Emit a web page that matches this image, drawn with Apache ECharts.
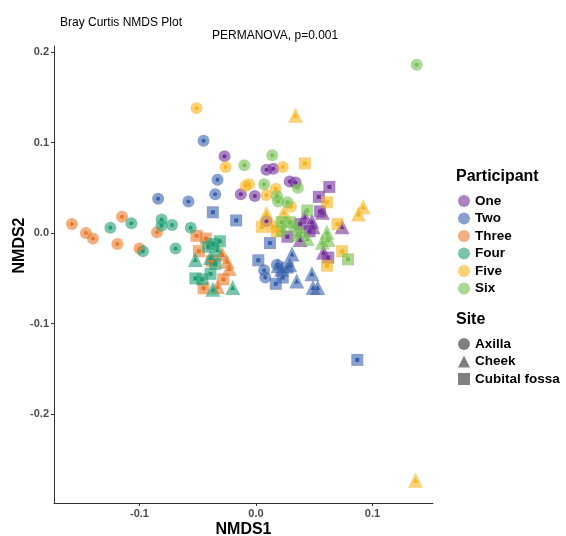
<!DOCTYPE html>
<html>
<head>
<meta charset="utf-8">
<script src="https://cdn.jsdelivr.net/npm/echarts@6/dist/echarts.min.js"></script>
<style>
  html, body { margin: 0; padding: 0; background: #fff; }
  #chart { width: 566px; height: 536px; }
</style>
</head>
<body>
<div id="chart"></div>
<script>
// NMDS 坐标, 每个点: [NMDS1, NMDS2, 部位]
let participants = ['One', 'Two', 'Three', 'Four', 'Five', 'Six'];
let sites = ['Axilla', 'Cheek', 'Cubital fossa'];
let xTicks = [-0.1, 0, 0.1];
let yTicks = [-0.2, -0.1, 0, 0.1, 0.2];

let one = [
    [-0.027, 0.085, 'Axilla'], [0.009, 0.070, 'Axilla'], [0.015, 0.071, 'Axilla'], [0.029, 0.057, 'Axilla'],
    [0.034, 0.056, 'Axilla'], [-0.013, 0.043, 'Axilla'], [-0.001, 0.041, 'Axilla'], [0.009, 0.013, 'Axilla'],
    [0.063, 0.051, 'Cubital fossa'], [0.054, 0.040, 'Cubital fossa'], [0.055, 0.024, 'Cubital fossa'],
    [0.027, -0.004, 'Cubital fossa'], [0.062, -0.027, 'Cubital fossa'], [0.038, 0.010, 'Cubital fossa'],
    [0.046, 0.002, 'Cubital fossa'],
    [0.057, 0.023, 'Cheek'], [0.048, 0.013, 'Cheek'], [0.049, 0.007, 'Cheek'], [0.074, 0.007, 'Cheek'],
    [0.058, -0.021, 'Cheek'], [0.038, -0.007, 'Cheek'], [0.042, 0.018, 'Cheek']
];
let two = [
    [-0.045, 0.102, 'Axilla'], [-0.033, 0.059, 'Axilla'], [-0.035, 0.043, 'Axilla'], [-0.058, 0.035, 'Axilla'],
    [-0.084, 0.038, 'Axilla'], [0.007, -0.041, 'Axilla'], [0.008, -0.049, 'Axilla'], [0.018, -0.035, 'Axilla'],
    [-0.037, 0.023, 'Cubital fossa'], [-0.017, 0.014, 'Cubital fossa'], [0.012, -0.011, 'Cubital fossa'],
    [0.002, -0.030, 'Cubital fossa'], [0.023, -0.049, 'Cubital fossa'], [0.017, -0.056, 'Cubital fossa'],
    [0.087, -0.140, 'Cubital fossa'], [0.027, -0.038, 'Cubital fossa'],
    [0.031, -0.023, 'Cheek'], [0.029, -0.035, 'Cheek'], [0.022, -0.040, 'Cheek'], [0.035, -0.053, 'Cheek'],
    [0.048, -0.045, 'Cheek'], [0.049, -0.060, 'Cheek'], [0.053, -0.060, 'Cheek'], [0.019, -0.036, 'Cheek']
];
let three = [
    [-0.158, 0.010, 'Axilla'], [-0.146, 0.000, 'Axilla'], [-0.140, -0.006, 'Axilla'], [-0.115, 0.018, 'Axilla'],
    [-0.119, -0.012, 'Axilla'], [-0.100, -0.017, 'Axilla'], [-0.085, 0.001, 'Axilla'],
    [-0.051, -0.003, 'Cubital fossa'], [-0.043, -0.006, 'Cubital fossa'], [-0.049, -0.020, 'Cubital fossa'],
    [-0.045, -0.061, 'Cubital fossa'], [-0.028, -0.051, 'Cubital fossa'], [-0.038, -0.031, 'Cubital fossa'],
    [-0.025, -0.031, 'Cheek'], [-0.023, -0.039, 'Cheek'], [-0.033, -0.059, 'Cheek'], [-0.029, -0.023, 'Cheek']
];
let four = [
    [-0.125, 0.006, 'Axilla'], [-0.107, 0.011, 'Axilla'], [-0.097, -0.020, 'Axilla'], [-0.081, 0.015, 'Axilla'],
    [-0.081, 0.008, 'Axilla'], [-0.072, 0.009, 'Axilla'], [-0.069, -0.017, 'Axilla'], [-0.056, 0.006, 'Axilla'],
    [-0.031, -0.009, 'Cubital fossa'], [-0.041, -0.015, 'Cubital fossa'], [-0.037, -0.012, 'Cubital fossa'],
    [-0.052, -0.050, 'Cubital fossa'], [-0.046, -0.051, 'Cubital fossa'], [-0.039, -0.045, 'Cubital fossa'],
    [-0.035, -0.034, 'Cubital fossa'],
    [-0.052, -0.029, 'Cheek'], [-0.033, -0.018, 'Cheek'], [-0.037, -0.062, 'Cheek'], [-0.020, -0.060, 'Cheek'],
    [-0.039, -0.027, 'Cheek']
];
let five = [
    [-0.051, 0.138, 'Axilla'], [-0.026, 0.073, 'Axilla'], [0.023, 0.073, 'Axilla'], [-0.009, 0.052, 'Axilla'],
    [-0.006, 0.054, 'Axilla'], [0.017, 0.049, 'Axilla'], [0.009, 0.042, 'Axilla'], [0.030, 0.029, 'Axilla'],
    [0.042, 0.077, 'Cubital fossa'], [0.061, 0.034, 'Cubital fossa'], [0.005, 0.007, 'Cubital fossa'],
    [0.015, 0.007, 'Cubital fossa'], [0.018, 0.002, 'Cubital fossa'], [0.070, 0.010, 'Cubital fossa'],
    [0.074, -0.020, 'Cubital fossa'], [0.061, -0.036, 'Cubital fossa'],
    [0.034, 0.130, 'Cheek'], [0.092, 0.029, 'Cheek'], [0.088, 0.021, 'Cheek'], [0.009, 0.022, 'Cheek'],
    [0.024, 0.023, 'Cheek'], [0.137, -0.273, 'Cheek']
];
let six = [
    [0.138, 0.186, 'Axilla'], [-0.010, 0.075, 'Axilla'], [0.014, 0.086, 'Axilla'], [0.007, 0.054, 'Axilla'],
    [0.036, 0.050, 'Axilla'], [0.018, 0.041, 'Axilla'], [0.019, 0.035, 'Axilla'], [0.027, 0.034, 'Axilla'],
    [0.044, 0.025, 'Cubital fossa'], [0.022, 0.012, 'Cubital fossa'], [0.029, 0.012, 'Cubital fossa'],
    [0.079, -0.029, 'Cubital fossa'], [0.033, 0.007, 'Cubital fossa'],
    [0.023, 0.004, 'Cheek'], [0.039, 0.002, 'Cheek'], [0.035, -0.001, 'Cheek'], [0.044, -0.006, 'Cheek'],
    [0.061, 0.001, 'Cheek'], [0.062, -0.007, 'Cheek'], [0.057, -0.010, 'Cheek']
];

let groups = [one, two, three, four, five, six];
let colors = ['#74309a', '#3760ac', '#e8792a', '#1f9e74', '#f5b41c', '#73bf4f'];
let shape = { 'Axilla': 'circle', 'Cheek': 'triangle', 'Cubital fossa': 'rect' };
let bigSize = { 'Axilla': 12, 'Cheek': 15, 'Cubital fossa': 12 };
let dotSize = { 'Axilla': 4, 'Cheek': 5, 'Cubital fossa': 4 };
let font = 'Liberation Sans, Arial, sans-serif';

// 大的半透明点 + 中间的小实心点
let bigSeries = [];
let dotSeries = [];
participants.forEach(function (p, i) {
    sites.forEach(function (s) {
        let pts = groups[i].filter(d => d[2] == s).map(d => [d[0], d[1]]);
        bigSeries.push({
            type: 'scatter', name: p, data: pts,
            symbol: shape[s], symbolSize: bigSize[s],
            itemStyle: { color: colors[i], opacity: 0.6 },
            z: 2
        });
        dotSeries.push({
            type: 'scatter', name: p, data: pts, silent: true,
            symbol: shape[s], symbolSize: dotSize[s],
            itemStyle: { color: colors[i], opacity: 1 },
            z: 3
        });
    });
});
// 部位图例用的空系列
let siteSeries = sites.map(s => ({
    type: 'scatter', name: s, data: [],
    symbol: shape[s], itemStyle: { color: '#555', opacity: 0.75 }
}));

let legendText = { fontSize: 13.5, fontWeight: 'bold', color: '#000', fontFamily: font, lineHeight: 12, padding: [0, 0, 0, 0] };

let myChart = echarts.init(document.getElementById('chart'));
let option = {
    animation: false,
    backgroundColor: '#fff',
    textStyle: { fontFamily: font },
    title: [
        { text: 'Bray Curtis NMDS Plot', left: 55, top: 12,
          textStyle: { fontSize: 12, fontWeight: 'normal', color: '#000', fontFamily: font } },
        { text: 'PERMANOVA, p=0.001', left: 207, top: 25,
          textStyle: { fontSize: 12, fontWeight: 'normal', color: '#000', fontFamily: font } },
        { text: 'Participant', left: 451, top: 164,
          textStyle: { fontSize: 16, fontWeight: 'bold', color: '#000', fontFamily: font } },
        { text: 'Site', left: 451, top: 307,
          textStyle: { fontSize: 16, fontWeight: 'bold', color: '#000', fontFamily: font } }
    ],
    legend: [
        {
            orient: 'vertical', left: 453, top: 189,
            itemWidth: 12, itemHeight: 12, itemGap: 3.5,
            data: participants.map(p => ({ name: p, icon: 'circle' })),
            textStyle: legendText
        },
        {
            orient: 'vertical', left: 453, top: 332,
            itemWidth: 12, itemHeight: 12, itemGap: 3.5,
            data: sites.map(s => ({ name: s, icon: shape[s] })),
            textStyle: legendText
        }
    ],
    grid: { left: 54, right: 133, top: 46, bottom: 33, outerBoundsMode: 'none', containLabel: false },
    xAxis: {
        type: 'value', min: -0.1734, max: 0.152,
        name: 'NMDS1', nameLocation: 'middle', nameGap: 19, nameMoveOverlap: false,
        nameTextStyle: { fontSize: 16, fontWeight: 'bold', color: '#000', fontFamily: font },
        splitLine: { show: false },
        axisLine: { show: true, onZero: false, lineStyle: { color: '#333', width: 1 } },
        axisTick: { show: true, length: 3, customValues: xTicks, lineStyle: { color: '#333' } },
        axisLabel: { customValues: xTicks, margin: 5, fontSize: 11, fontWeight: 'bold', color: '#4d4d4d',
                     fontFamily: font, formatter: v => v.toFixed(1) }
    },
    yAxis: {
        type: 'value', min: -0.298, max: 0.2066,
        name: 'NMDS2', nameLocation: 'middle', nameGap: 26, nameMoveOverlap: false,
        nameTextStyle: { fontSize: 16, fontWeight: 'bold', color: '#000', fontFamily: font, padding: [0, 0, 0, 58] },
        splitLine: { show: false },
        axisLine: { show: true, onZero: false, lineStyle: { color: '#333', width: 1 } },
        axisTick: { show: true, length: 3, customValues: yTicks, lineStyle: { color: '#333' } },
        axisLabel: { customValues: yTicks, margin: 5, fontSize: 11, fontWeight: 'bold', color: '#4d4d4d',
                     fontFamily: font, formatter: v => v.toFixed(1) }
    },
    series: bigSeries.concat(dotSeries).concat(siteSeries)
};
myChart.setOption(option);
</script>
</body>
</html>
